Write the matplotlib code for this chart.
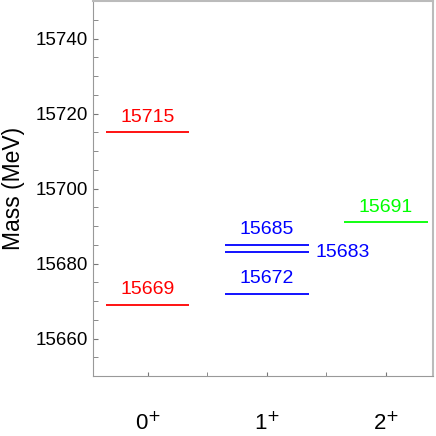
import numpy as np
import matplotlib.pyplot as plt
from matplotlib.ticker import MultipleLocator

plt.rcParams['font.family'] = ['Liberation Sans', 'DejaVu Sans']

# levels for each J^P
states = ['0$^{+}$', '1$^{+}$', '2$^{+}$']
mass_0 = [15715, 15669]
mass_1 = [15685, 15683, 15672]
mass_2 = [15691]
colors = ['red', 'blue', 'lime']

fig = plt.figure(figsize=(4.36, 4.36), dpi=100)
ax = fig.add_axes([0.2133, 0.1376, 0.7798, 0.8601])

hw = 0.35
groups = [mass_0, mass_1, mass_2]
for i, (ms, c) in enumerate(zip(groups, colors)):
    x = i + 1
    for m in ms:
        ax.hlines(m, x - hw, x + hw, color=c, lw=1.3)
        if i == 1 and m == 15683:
            ax.text(x + hw + 0.06, m, str(m), color=c, fontsize=14,
                    ha='left', va='center')
        else:
            ax.text(x, m + 4.0, str(m), color=c, fontsize=14,
                    ha='center', va='center')

ax.set_xlim(0.54, 3.395)
ax.set_ylim(15650, 15750)
ax.set_xticks([1, 2, 3])
ax.set_xticklabels(states, fontsize=16)
ax.xaxis.set_minor_locator(MultipleLocator(0.5))
ax.yaxis.set_major_locator(MultipleLocator(20))
ax.yaxis.set_minor_locator(MultipleLocator(5))
ax.tick_params(axis='y', which='both', direction='in', labelsize=13.5,
               color='#777777', length=3.5)
ax.tick_params(axis='x', which='both', direction='in', length=3,
               color='#777777', pad=26)
ax.tick_params(top=False, right=False)
ax.set_ylabel('Mass (MeV)', fontsize=16.5, labelpad=8)

for s in ['left', 'bottom']:
    ax.spines[s].set_color('#999999')
for s in ['top', 'right']:
    ax.spines[s].set_color('#bbbbbb')
    ax.spines[s].set_linewidth(1.5)

fig.savefig('out.png', dpi=100)
